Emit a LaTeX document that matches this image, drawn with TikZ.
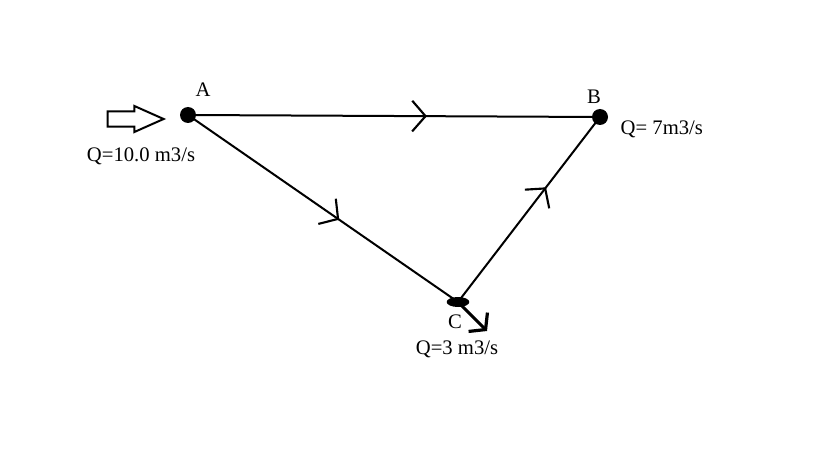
\documentclass[tikz,border=0pt]{standalone}
\usepackage{fontspec}
\setmainfont{Liberation Serif}
\usetikzlibrary{arrows.meta,decorations.markings,shapes.arrows,shapes.geometric}

\begin{document}
\begin{tikzpicture}[x=0.75pt,y=-0.75pt,font=\fontsize{15.5}{18}\selectfont,
    pipe/.style={line width=1.5pt},
    barb/.tip={Straight Barb[length=10pt,width=23pt,line width=1.6pt]},
    flowmark/.style={postaction={decorate,decoration={markings,
        mark=at position #1 with {\arrow{barb}}}}}]
  \useasboundingbox (0,0) rectangle (819,460);
  % junctions of the network
  \node[circle,fill,inner sep=0pt,minimum size=12pt] (A) at (188,115) {};
  \node[circle,fill,inner sep=0pt,minimum size=12pt] (B) at (600,117) {};
  \node[ellipse,fill,inner sep=0pt,minimum width=17pt,minimum height=7.5pt] (C) at (458,302) {};
  \node at (203,90) {A};
  \node at (594,97) {B};
  \node at (455,322) {C};
  % pipes with flow direction
  \draw[pipe,flowmark=0.58] (A.center) -- (B.center);
  \draw[pipe,flowmark=0.56] (A.center) -- (C.center);
  \draw[pipe,flowmark=0.62] (C.center) -- (B.center);
  % inflow at A
  \node[single arrow,draw,line width=1.5pt,minimum height=42pt,inner xsep=0pt,inner ysep=5pt,
        single arrow head extend=4pt,single arrow tip angle=48] (qin) at (127,119) {};
  \node (qa) at (141,156) {Q=10.0 m3/s};
  % outflow at C and demand at B
  \coordinate (out) at (487,331);
  \draw[line width=2.2pt,-{Straight Barb[length=8pt,width=20pt,line width=2.4pt]}] (C.center) -- (out);
  \node (qc) at (457,349) {Q=3 m3/s};
  \node[anchor=west] (qb) at (616,129) {Q= 7m3/s};
\end{tikzpicture}
\end{document}
